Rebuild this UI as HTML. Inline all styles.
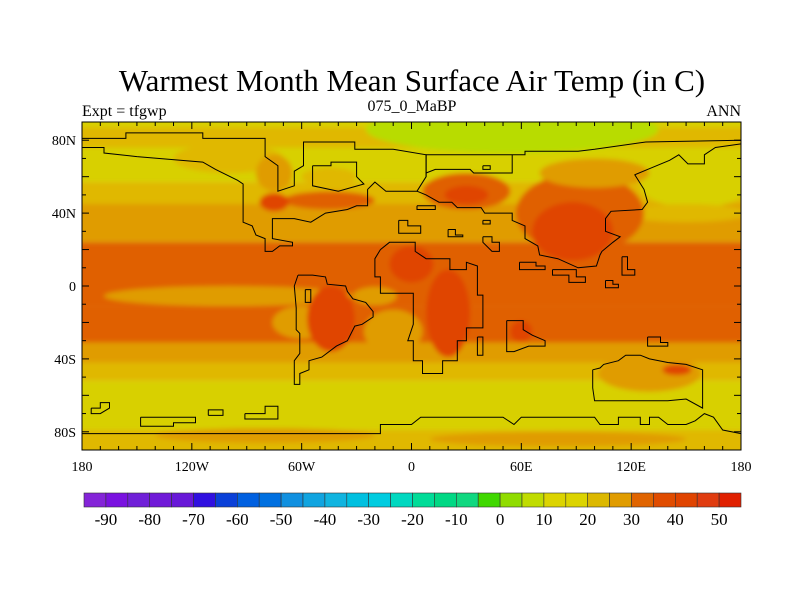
<!DOCTYPE html>
<html><head><meta charset="utf-8"><style>
body{margin:0;background:#fff;width:800px;height:600px;overflow:hidden}
svg{display:block;font-family:"Liberation Serif",serif}
</style></head><body>
<svg id="chart" width="800" height="600" viewBox="0 0 800 600">
<defs>
<clipPath id="mapclip"><rect x="82" y="122" width="659" height="328"/></clipPath>
<filter id="blur" x="-5%" y="-5%" width="110%" height="110%"><feGaussianBlur stdDeviation="2.5"/></filter>
</defs>
<text x="412" y="91" font-size="31" text-anchor="middle">Warmest Month Mean Surface Air Temp (in C)</text>
<text x="82" y="116" font-size="16">Expt = tfgwp</text>
<text x="412" y="111" font-size="16" text-anchor="middle">075_0_MaBP</text>
<text x="741" y="116" font-size="16" text-anchor="end">ANN</text>
<g id="field" clip-path="url(#mapclip)"></g>
<g id="coast" clip-path="url(#mapclip)"></g>
<rect x="82" y="122" width="659" height="328" fill="none" stroke="#000" stroke-width="1"/>
<g id="axes"></g>
<g id="cbar"></g>
</svg>
<script>
const NS="http://www.w3.org/2000/svg";
// ---- data ----
const lonTicks=[-180,-120,-60,0,60,120,180];
const lonLabels=["180","120W","60W","0","60E","120E","180"];
const latTicks=[80,40,0,-40,-80];
const latLabels=["80N","40N","0","40S","80S"];
const cbarLevels=[-90,-80,-70,-60,-50,-40,-30,-20,-10,0,10,20,30,40,50];
const cbarColors=["#8424d8","#7a12e0","#7020d8","#701ad8","#6818d8","#3010e0","#0a40d8","#0060e0","#0070e0","#1090e0","#10a4e0","#10b4e0","#00c0e0","#00cce0","#00d8c0","#00dc98","#00d884","#10d880","#40d800","#90dc00","#c0dc00","#dcd400","#dcd400","#dcb800","#e09c00","#e06400","#e04c00","#e04400","#e03c10","#e02000"];
// temperature bands: [latTop, latBottom, colour]
const bandTop=[90,87,76,57,45,24,0,-11.5,-31,-42,-52,-79];
const bandBot=[87,76,57,45,24,0,-11.5,-31,-42,-52,-79,-90];
const bandCol=["#d8d000","#e0b800","#d8d000","#e0b800","#e09c00","#e06000","#e06000","#e06000","#e09c00","#e0b800","#d8d000","#e0b800"];
// blobs: [lon, lat, rlon, rlat, colour]
const blobs=[
[55,86,80,13,"#b8dc00"],
[-100,-5.5,68,5.5,"#e09c00"],
[-20,-5.5,12,5,"#e09c00"],
[-60,-20,16,9,"#e09c00"],
[-10,-25,16,12,"#e09c00"],
[-5,32,35,7,"#e09c00"],
[155,55,30,12,"#d8d000"],
[150,40,35,5,"#e0b800"],
[-100,70,30,8,"#e0b800"],
[-75,62,10,10,"#e09c00"],
[-45,47,25,5,"#e06000"],
[-75,46,8,5,"#e04400"],
[-45,60,15,5,"#e0b800"],
[30,52,24,10,"#e06000"],
[30,50,12,5,"#e04400"],
[92,40,35,22,"#e06000"],
[88,30,22,16,"#e04400"],
[100,62,30,8,"#e09c00"],
[-44,-18,13,18,"#e04400"],
[0,12,12,10,"#e04400"],
[20,-15,12,24,"#e04400"],
[60,-25,6,6,"#e04400"],
[130,-48,28,10,"#e09c00"],
[145,-46,8,3,"#e04400"],
[-80,-82,60,4,"#e09c00"],
[80,-84,70,4,"#e09c00"]];
// coastline polylines [lon,lat]
const coasts=[
[[-180,76],[-168,76],[-168,73],[-150,71],[-114,68],[-107,64],[-95,58],[-92,56],[-92,35],[-87,33],[-85,28],[-80,26],[-80,19],[-76,19],[-72,22],[-65,22],[-65,24],[-76,26],[-76,37],[-64,37],[-55,35],[-47,40],[-35,42],[-30,44],[-24,44],[-24,53],[-20,57],[-14,52],[0,52],[3,52]],
[[8,60],[8,72],[-10,75],[-31,75],[-31,79],[-59,79],[-59,66],[-64,63],[-64,55],[-73,52],[-73,66],[-80,71],[-80,81],[-114,81],[-114,84],[-156,84],[-156,81],[-180,81]],
[[-54,66],[-44,66],[-44,68],[-30,68],[-30,60],[-26,56],[-40,52],[-54,55],[-54,66]],
[[3,52],[8,60],[8,72],[62,72],[62,74],[91,74],[100,75],[128,79],[180,80],[180,78],[166,76],[160,72],[160,67],[151,67],[146,72],[141,69],[129,64],[122,61],[127,53],[129,46],[126,42],[109,41],[106,37],[106,30],[114,27],[110,24],[104,19],[103,17],[101,11],[91,10],[80,15],[70,17],[69,22],[62,26],[62,33],[55,36],[55,40],[40,40],[38,43],[25,43],[22,46],[15,46],[8,50],[3,52]],
[[8,62],[13,64],[32,64],[34,62],[55,62],[55,72]],
[[-17,20],[-12,24],[2,24],[2,19],[8,15],[21,15],[21,9],[30,9],[30,13],[36,11],[36,-5],[39,-5],[39,-23],[30,-23],[30,-30],[25,-30],[25,-41],[17,-41],[17,-48],[6,-48],[6,-41],[1,-41],[1,-30],[-2,-30],[1,-21],[1,-4],[-17,-4],[-17,5],[-20,5],[-20,15],[-17,20]],
[[-62,6],[-54,6],[-47,5],[-46,1],[-36,0],[-35,-3],[-32,-7],[-25,-9],[-21,-14],[-21,-17],[-27,-21],[-31,-22],[-35,-30],[-41,-33],[-49,-39],[-56,-41],[-56,-46],[-61,-48],[-61,-54],[-64,-54],[-64,-41],[-61,-37],[-61,-26],[-63,-24],[-63,-12],[-64,0],[-62,6]],
[[-180,-81],[-17,-81],[-17,-76],[0,-76],[5,-72],[50,-72],[56,-76],[60,-72],[100,-72],[103,-76],[113,-76],[113,-72],[125,-72],[125,-76],[130,-76],[130,-72],[135,-72],[140,-76],[150,-76],[155,-74],[160,-70],[165,-72],[170,-79],[180,-81]],
[[99,-46],[103,-45],[105,-43],[113,-41],[117,-38],[125,-38],[130,-40],[140,-42],[150,-43],[159,-46],[159,-67],[150,-62],[140,-63],[118,-63],[100,-63],[99,-56],[99,-46]],
[[52,-19],[61,-19],[61,-24],[66,-27],[73,-30],[73,-33],[64,-33],[56,-36],[52,-36],[52,-19]],
[[-175,-67],[-170,-67],[-170,-64],[-165,-64],[-165,-67],[-170,-70],[-175,-70],[-175,-67]],
[[-148,-72],[-118,-72],[-118,-75],[-130,-75],[-130,-77],[-148,-77],[-148,-72]],
[[-111,-71],[-103,-71],[-103,-68],[-111,-68],[-111,-71]],
[[-91,-70],[-80,-70],[-80,-66],[-73,-66],[-73,-73],[-91,-73],[-91,-70]],
[[129,-28],[136,-28],[136,-31],[140,-31],[140,-33],[129,-33],[129,-28]],
[[115,16],[118,16],[118,9],[122,9],[122,6],[115,6],[115,16]],
[[59,13],[68,13],[68,11],[73,11],[73,9],[59,9],[59,13]],
[[77,9],[90,9],[90,5],[95,5],[95,2],[86,2],[86,6],[77,6],[77,9]],
[[106,3],[110,3],[110,1],[113,1],[113,-1],[106,-1],[106,3]],
[[-7,36],[-2,36],[-2,33],[5,33],[5,29],[-7,29],[-7,36]],
[[3,44],[13,44],[13,42],[3,42],[3,44]],
[[20,31],[24,31],[24,28],[28,28],[28,27],[20,27],[20,31]],
[[39,27],[44,27],[44,24],[48,24],[48,19],[44,19],[39,24],[39,27]],
[[39,36],[43,36],[43,34],[39,34],[39,36]],
[[39,66],[43,66],[43,64],[39,64],[39,66]],
[[-58,-2],[-55,-2],[-55,-9],[-58,-9],[-58,-2]],
[[36,-28],[39,-28],[39,-38],[36,-38],[36,-28]]];
// ---- scales ----
const X=lon=>82+(lon+180)*659/360;
const Y=lat=>286-lat*328/180;
const field=document.getElementById('field');
const fg=document.createElementNS(NS,'g');fg.setAttribute('filter','url(#blur)');field.appendChild(fg);
bandTop.forEach((t,i)=>{const r=document.createElementNS(NS,'rect');
r.setAttribute('x',60);r.setAttribute('width',700);r.setAttribute('y',Y(t)-(i==0?20:0));r.setAttribute('height',Y(bandBot[i])-Y(t)+(i==0?20:0)+(i==bandTop.length-1?20:0));r.setAttribute('fill',bandCol[i]);


fg.appendChild(r);});
blobs.forEach(b=>{const e=document.createElementNS(NS,'ellipse');
e.setAttribute('cx',X(b[0]));e.setAttribute('cy',Y(b[1]));e.setAttribute('rx',b[2]*659/360);e.setAttribute('ry',b[3]*328/180);e.setAttribute('fill',b[4]);


fg.appendChild(e);});
const coast=document.getElementById('coast');
coasts.forEach(c=>{const p=document.createElementNS(NS,'polyline');
p.setAttribute('points',c.map(q=>X(q[0]).toFixed(1)+','+Y(q[1]).toFixed(1)).join(' '));
p.setAttribute('fill','none');p.setAttribute('stroke','#000');p.setAttribute('stroke-width','1');


coast.appendChild(p);});
// axes
const axes=document.getElementById('axes');
function line(x1,y1,x2,y2){const l=document.createElementNS(NS,'line');l.setAttribute('x1',x1);l.setAttribute('y1',y1);l.setAttribute('x2',x2);l.setAttribute('y2',y2);l.setAttribute('stroke','#000');l.setAttribute('stroke-width','1');


axes.appendChild(l);}
for(let lon=-180;lon<=180;lon+=10){const L=(lon%60===0)?7:4;const x=X(lon);line(x,122,x,122+L);line(x,450,x,450-L);}
for(let lat=-90;lat<=90;lat+=10){const L=(lat%20===0)?7:4;const y=Y(lat);line(82,y,82+L,y);line(741,y,741-L,y);}
lonTicks.forEach((v,i)=>{const t=document.createElementNS(NS,'text');t.setAttribute('x',X(v));t.setAttribute('y',471);t.setAttribute('font-size','14');t.setAttribute('text-anchor','middle');t.textContent=lonLabels[i];


axes.appendChild(t);});
latTicks.forEach((v,i)=>{const t=document.createElementNS(NS,'text');t.setAttribute('x',76);t.setAttribute('y',Y(v)+5);t.setAttribute('font-size','14');t.setAttribute('text-anchor','end');t.textContent=latLabels[i];


axes.appendChild(t);});
// colorbar
const cb=document.getElementById('cbar');const bw=(741-84)/cbarColors.length;
cbarColors.forEach((c,i)=>{const r=document.createElementNS(NS,'rect');r.setAttribute('x',84+i*bw);r.setAttribute('y',493);r.setAttribute('width',bw);r.setAttribute('height',14);r.setAttribute('fill',c);r.setAttribute('stroke','#333');r.setAttribute('stroke-width','0.6');


cb.appendChild(r);});
cbarLevels.forEach((v,i)=>{const t=document.createElementNS(NS,'text');t.setAttribute('x',84+(1+2*i)*bw);t.setAttribute('y',525);t.setAttribute('font-size','17');t.setAttribute('text-anchor','middle');t.textContent=String(v);


cb.appendChild(t);});
</script>
</body></html>
